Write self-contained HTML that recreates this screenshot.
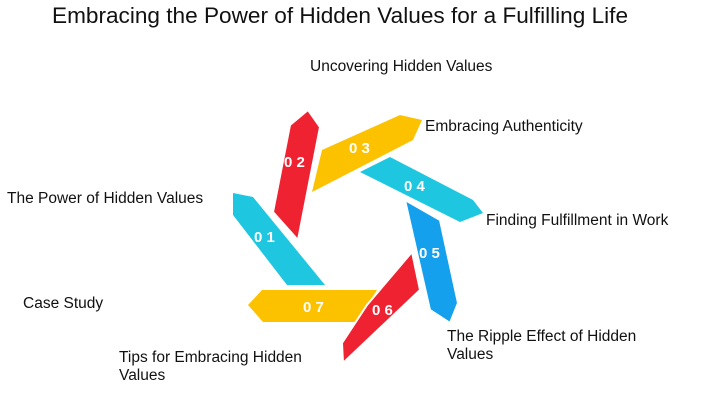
<!DOCTYPE html>
<html><head><meta charset="utf-8"><style>
body{margin:0;width:711px;height:400px;background:#fff;position:relative;overflow:hidden;font-family:"Liberation Sans",sans-serif;}
.t{position:absolute;font-size:15.5px;color:#111;line-height:18px;}
h1{position:absolute;left:52px;top:3px;margin:0;font-weight:normal;font-size:22.6px;color:#111;}
</style></head><body>
<h1>Embracing the Power of Hidden Values for a Fulfilling Life</h1>
<div class="t" style="left:310px;top:58px">Uncovering Hidden Values</div>
<div class="t" style="left:425px;top:118px">Embracing Authenticity</div>
<div class="t" style="left:7px;top:190px">The Power of Hidden Values</div>
<div class="t" style="left:486px;top:212px">Finding Fulfillment in Work</div>
<div class="t" style="left:23px;top:295px">Case Study</div>
<div class="t" style="left:447px;top:328px">The Ripple Effect of Hidden<br>Values</div>
<div class="t" style="left:119px;top:349px">Tips for Embracing Hidden<br>Values</div>
<svg width="711" height="400" style="position:absolute;left:0;top:0" font-family="Liberation Sans" font-weight="bold" font-size="15" fill="#fff">
<polygon points="233,193 253,197 325,285 287,285 233,215" fill="#1ec6e0"/>
<polygon points="308,110 320,127 298,240 273,212 290,125" fill="#ee2230" stroke="#fff" stroke-width="2"/>
<polygon points="322,150 400,115 422,120 413,140 312,192" fill="#fcc200"/>
<polygon points="360,172 390,157 473,200 483,213 460,222" fill="#1ec6e0"/>
<polygon points="405,200 440,220 458,303 450,323 430,310" fill="#14a0ec" stroke="#fff" stroke-width="2"/>
<polygon points="248,305 262,290 377,290 357,322 263,322" fill="#fcc200"/>
<polygon points="412,252 420,290 343,363 342,343 367,305" fill="#ee2230" stroke="#fff" stroke-width="2"/>
<text x="254" y="242" fill="#fff">0 1</text>
<text x="284" y="167">0 2</text>
<text x="349" y="153">0 3</text>
<text x="404" y="191">0 4</text>
<text x="419" y="258">0 5</text>
<text x="372" y="315">0 6</text>
<text x="303" y="312">0 7</text>
</svg>
</body></html>
